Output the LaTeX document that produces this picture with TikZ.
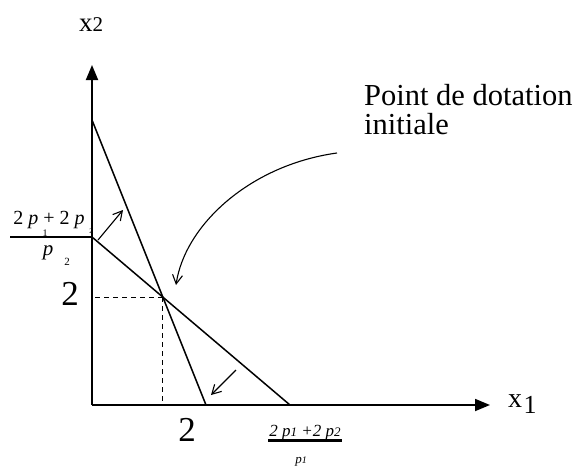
\documentclass[tikz,border=0pt]{standalone}
\usepackage{fontspec}
\setmainfont{Liberation Serif}
\usetikzlibrary{arrows.meta}
\tikzset{
  axis/.style={line width=1.8pt,-{Triangle[length=15pt,width=12pt]}},
  budget/.style={line width=1.5pt},
  guide/.style={line width=1.2pt,dash pattern=on 5pt off 4pt},
  pointer/.style={line width=1.1pt,-{Straight Barb[length=9pt,width=10pt,line width=1.1pt]}},
  lbl/.style={inner sep=0pt,anchor=base},
}
\newcommand{\fs}[1]{\fontsize{#1}{#1}\selectfont}
\begin{document}
\begin{tikzpicture}[x=1pt,y=-1pt]
\useasboundingbox (0,0) rectangle (586,466);
\coordinate (O) at (92,405);
\coordinate (ytip) at (92,65);
\coordinate (xtip) at (490,405);
\coordinate (A) at (92,120);
\coordinate (B) at (206,405);
\coordinate (C) at (92,237);
\coordinate (D) at (290,405);
\coordinate (L) at (10,237);
\coordinate (E) at (intersection of A--B and C--D);
% axes
\draw[axis] (O) -- (ytip);
\draw[axis] (O) -- (xtip);
% budget lines
\draw[budget] (A) -- (B);
\draw[budget] (C) -- (D);
\draw[line width=1.2pt] (L) -- (C);
% guides
\draw[guide] (E) -- (E -| O);
\draw[guide] (E) -- (E |- O);
% pointers
\coordinate (p1s) at (98,240);
\coordinate (p1e) at (123,210);
\draw[pointer] (p1s) -- (p1e);
\coordinate (p2s) at (236,370);
\coordinate (p2e) at (211,395);
\draw[pointer] (p2s) -- (p2e);
\coordinate (cs) at (337,153);
\coordinate (ce) at (176,285);
\draw[pointer] (cs) .. controls (250,165) and (185,225) .. (ce);
% labels
\node[lbl] (x2) at (91,31) {\fs{27}x\fs{21}2};
\node[lbl] (x1) at (515,407) {\fs{28}x};
\node[lbl] (x1s) at (530,413) {\fs{26}1};
\node[lbl,anchor=base west] (pt) at (364,105) {\fs{30.5}Point de dotation};
\node[lbl,anchor=base west] (ini) at (364,134) {\fs{30.5}initiale};
\node[lbl] (two1) at (70,305) {\fs{35}2};
\node[lbl] (two2) at (187,441) {\fs{35}2};
% left fraction (broken layout)
\node[lbl] (lnum) at (49,224) {\fs{20}2 \textit{p} + 2 \textit{p}};
\node[lbl] (lsub1) at (45,236) {\fs{10}1};
\node[lbl] (lden) at (48,255) {\fs{21}\textit{p}};
\node[lbl] (lsub2) at (67,265) {\fs{11}2};
\node[lbl] (lsub3) at (91,233) {\fs{7}2};
% bottom fraction
\node[lbl] (bnum) at (305,436) {\fs{17}\textit{2 p\fs{13}1\fs{17} +2 p\fs{13}2}};
\draw[line width=3pt] (268,440.5) -- (342,440.5);
\node[lbl] (bden) at (301,463) {\fs{13}\textit{p\fs{10}1}};
\end{tikzpicture}
\end{document}
